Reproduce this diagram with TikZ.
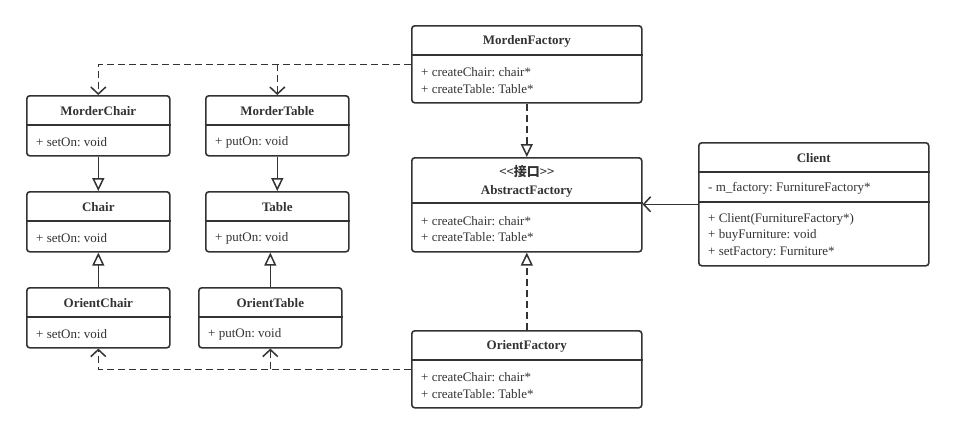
\documentclass[tikz,border=0pt]{standalone}
\usepackage{fontspec}
\setmainfont{Liberation Serif}
\newfontfamily\cjk{Noto Sans CJK SC}
\usetikzlibrary{arrows.meta}
\definecolor{ink}{HTML}{333333}
\frenchspacing
\tikzset{
  classframe/.style={draw=ink, line width=1.6pt, rounded corners=3pt, fill=white, inner sep=0pt, anchor=north west},
  classline/.style={draw=ink, line width=1.6pt},
  classtitle/.style={text=ink, inner sep=0pt, align=center, yshift=-1.5pt, font=\fontsize{13}{17}\selectfont\bfseries},
  classbody/.style={text=ink, inner sep=0pt, align=left, anchor=west, yshift=-1.5pt, font=\fontsize{13}{16.5}\selectfont},
  dep/.style={draw=ink, line width=1.5pt, dash pattern=on 7pt off 4pt, -{Straight Barb[length=7pt,width=15pt]}},
  real/.style={draw=ink, line width=1.5pt, dash pattern=on 7pt off 4pt, -{Triangle[open,fill=white,length=13pt,width=12pt]}},
  inh/.style={draw=ink, line width=1.5pt, -{Triangle[open,fill=white,length=13pt,width=12pt]}},
  assoc/.style={draw=ink, line width=1.5pt, -{Straight Barb[length=7pt,width=15pt]}}
}
% name, x, y, width, height, title height, title, members
\def\classbox#1#2#3#4#5#6#7#8{%
  \node[classframe, minimum width=#4pt, minimum height=#5pt] (#1) at (#2,#3) {};
  \node[classtitle] (#1-title) at ([yshift=-#6/2*1pt]#1.north) {#7};
  \draw[classline] ([yshift=-#6*1pt]#1.north west) -- ([yshift=-#6*1pt]#1.north east);
  \node[classbody] (#1-body) at ([xshift=10pt,yshift=-#6/2*1pt]#1.west) {#8};
}

\begin{document}
\begin{tikzpicture}[x=1pt,y=-1pt]
\useasboundingbox (0,0) rectangle (953,432);

\classbox{mf}{411}{25}{230}{77}{30}{MordenFactory}{+ createChair: chair*\\+ createTable: Table*}
\classbox{af}{411}{157}{230}{94}{46}{{\cjk\mdseries <\kern0pt<\textbf{接口}>\kern0pt>}\\[1pt]AbstractFactory}{+ createChair: chair*\\+ createTable: Table*}
\classbox{of}{411}{330}{230}{77}{30}{OrientFactory}{+ createChair: chair*\\+ createTable: Table*}

\classbox{mc}{26}{95}{143}{60}{30}{MorderChair}{+ setOn: void}
\classbox{mt}{205}{95}{143}{60}{30}{MorderTable}{+ putOn: void}
\classbox{ch}{26}{191}{143}{60}{30}{Chair}{+ setOn: void}
\classbox{tb}{205}{191}{143}{60}{30}{Table}{+ putOn: void}
\classbox{oc}{26}{287}{143}{60}{30}{OrientChair}{+ setOn: void}
\classbox{ot}{198}{287}{143}{60}{30}{OrientTable}{+ putOn: void}

\node[classframe, minimum width=230pt, minimum height=123pt] (cl) at (698,142) {};
\node[classtitle] (cl-title) at ([yshift=-15pt]cl.north) {Client};
\draw[classline] ([yshift=-30pt]cl.north west) -- ([yshift=-30pt]cl.north east);
\node[classbody] (cl-attr) at ([xshift=10pt,yshift=-45pt]cl.north west) {- m\_factory: FurnitureFactory*};
\draw[classline] ([yshift=-60pt]cl.north west) -- ([yshift=-60pt]cl.north east);
\node[classbody] (cl-ops) at ([xshift=10pt,yshift=-92pt]cl.north west) {+ Client(FurnitureFactory*)\\+ buyFurniture: void\\+ setFactory: Furniture*};

\draw[dep] (mf.west) -| (mc.north);
\draw[dep] (mt.north |- mf.west) -- (mt.north);
\draw[dep] (of.west) -| (oc.south);
\draw[dep] (ot.south |- of.west) -- (ot.south);
\draw[real] (mf.south) -- (af.north);
\draw[real] (of.north) -- (af.south);
\draw[inh] (mc.south) -- (ch.north);
\draw[inh] (mt.south) -- (tb.north);
\draw[inh] (oc.north) -- (ch.south);
\draw[inh] (ot.north) -- (ot.north |- tb.south);
\draw[assoc] (cl.west) -- (af.east |- cl.west);
\end{tikzpicture}
\end{document}
